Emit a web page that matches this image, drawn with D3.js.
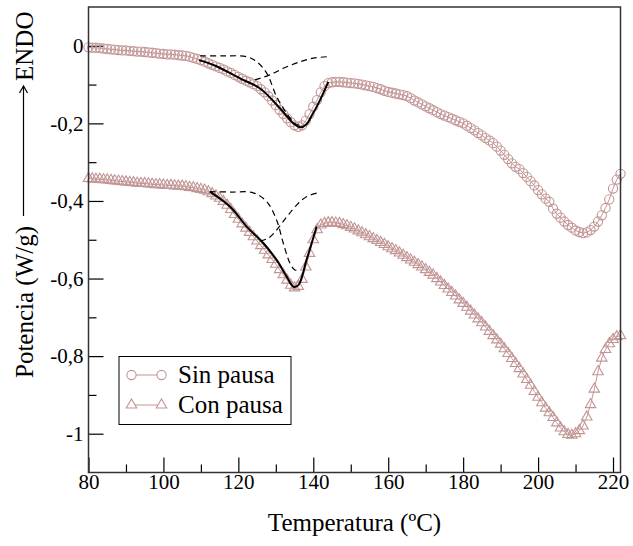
<!DOCTYPE html>
<html lang="es">
<head>
<meta charset="UTF-8">
<title>Potencia vs Temperatura</title>
<script src="https://cdnjs.cloudflare.com/ajax/libs/d3/7.8.5/d3.min.js"></script>
<style>
    body { margin: 0; background: #fff; }
    svg { display: block; font-family: "Liberation Serif", "Times New Roman", serif; }
    .axis path { display: none; }
    .axis line { stroke: #000; stroke-width: 1.2; }
    .axis text { font-size: 21px; fill: #000; font-family: "Liberation Serif", serif; }
</style>
</head>
<body>
<svg id="chart" width="633" height="546"></svg>
<script>
// temperatures (ºC) of the measured points, one per degree
const temps = [
     80,  81,  82,  83,  84,  85,  86,  87,  88,  89,  90,  91,  92,  93,  94,  95,  96,  97,  98,  99,
    100, 101, 102, 103, 104, 105, 106, 107, 108, 109, 110, 111, 112, 113, 114, 115, 116, 117, 118, 119,
    120, 121, 122, 123, 124, 125, 126, 127, 128, 129, 130, 131, 132, 133, 134, 135, 136, 137, 138, 139,
    140, 141, 142, 143, 144, 145, 146, 147, 148, 149, 150, 151, 152, 153, 154, 155, 156, 157, 158, 159,
    160, 161, 162, 163, 164, 165, 166, 167, 168, 169, 170, 171, 172, 173, 174, 175, 176, 177, 178, 179,
    180, 181, 182, 183, 184, 185, 186, 187, 188, 189, 190, 191, 192, 193, 194, 195, 196, 197, 198, 199,
    200, 201, 202, 203, 204, 205, 206, 207, 208, 209, 210, 211, 212, 213, 214, 215, 216, 217, 218, 219,
    220, 221, 222
];

// "Sin pausa" (circles)
const sinPausa = [
    -0.004, -0.005, -0.005, -0.006, -0.007, -0.008, -0.009, -0.010, -0.011, -0.012,
    -0.012, -0.013, -0.014, -0.015, -0.015, -0.016, -0.017, -0.018, -0.019, -0.020,
    -0.021, -0.022, -0.022, -0.023, -0.024, -0.025, -0.026, -0.028, -0.031, -0.034,
    -0.037, -0.041, -0.045, -0.049, -0.053, -0.057, -0.061, -0.066, -0.070, -0.075,
    -0.080, -0.085, -0.090, -0.094, -0.099, -0.104, -0.112, -0.120, -0.130, -0.141,
    -0.153, -0.165, -0.176, -0.187, -0.197, -0.205, -0.209, -0.205, -0.193, -0.176,
    -0.157, -0.140, -0.120, -0.104, -0.096, -0.094, -0.093, -0.093, -0.094, -0.095,
    -0.096, -0.097, -0.098, -0.100, -0.102, -0.104, -0.106, -0.109, -0.112, -0.116,
    -0.119, -0.121, -0.123, -0.125, -0.127, -0.130, -0.135, -0.141, -0.146, -0.151,
    -0.156, -0.161, -0.166, -0.171, -0.176, -0.180, -0.184, -0.188, -0.192, -0.196,
    -0.200, -0.206, -0.212, -0.218, -0.225, -0.231, -0.238, -0.244, -0.251, -0.260,
    -0.270, -0.281, -0.292, -0.303, -0.312, -0.318, -0.328, -0.338, -0.349, -0.360,
    -0.372, -0.383, -0.394, -0.402, -0.420, -0.433, -0.443, -0.453, -0.462, -0.469,
    -0.476, -0.480, -0.483, -0.481, -0.475, -0.466, -0.453, -0.437, -0.418, -0.396,
    -0.368, -0.345, -0.330
];

// "Con pausa" (triangles)
const conPausa = [
    -0.342, -0.343, -0.344, -0.344, -0.345, -0.346, -0.347, -0.348, -0.349, -0.350,
    -0.351, -0.352, -0.353, -0.354, -0.355, -0.355, -0.356, -0.357, -0.358, -0.358,
    -0.359, -0.360, -0.360, -0.361, -0.362, -0.362, -0.363, -0.365, -0.366, -0.368,
    -0.370, -0.372, -0.376, -0.381, -0.387, -0.393, -0.401, -0.411, -0.422, -0.435,
    -0.447, -0.459, -0.470, -0.481, -0.492, -0.503, -0.515, -0.527, -0.539, -0.551,
    -0.563, -0.577, -0.590, -0.604, -0.617, -0.624, -0.620, -0.602, -0.570, -0.535,
    -0.500, -0.474, -0.462, -0.458, -0.456, -0.456, -0.457, -0.458, -0.461, -0.464,
    -0.468, -0.472, -0.477, -0.482, -0.487, -0.492, -0.497, -0.502, -0.507, -0.512,
    -0.518, -0.523, -0.528, -0.534, -0.540, -0.546, -0.552, -0.558, -0.564, -0.570,
    -0.577, -0.584, -0.591, -0.600, -0.609, -0.618, -0.627, -0.636, -0.645, -0.655,
    -0.664, -0.674, -0.684, -0.694, -0.704, -0.714, -0.725, -0.736, -0.747, -0.758,
    -0.769, -0.781, -0.793, -0.806, -0.819, -0.832, -0.846, -0.860, -0.875, -0.891,
    -0.906, -0.920, -0.934, -0.946, -0.958, -0.972, -0.985, -0.995, -1.002, -1.004,
    -1.000, -0.992, -0.980, -0.957, -0.925, -0.885, -0.840, -0.805, -0.783, -0.768,
    -0.757, -0.750, -0.747
];

// fitted peak (solid) and its two components (dashed), [T, P]
const fitSin = [[109.5, -0.037], [114, -0.052], [120.4, -0.084], [125.8, -0.110], [131.1, -0.161],
    [134.7, -0.200], [136.5, -0.210], [138.2, -0.202], [139.6, -0.180], [141.8, -0.140], [144, -0.093]];
const compSinA = [[109.8, -0.026], [116, -0.026], [122.2, -0.028], [124.9, -0.041], [127.6, -0.071],
    [130.2, -0.131], [132.9, -0.174], [135.1, -0.200], [136.5, -0.206]];
const compSinB = [[124.4, -0.088], [128.4, -0.075], [132, -0.058], [136.5, -0.041], [140, -0.032], [144, -0.028]];

const fitCon = [[112.4, -0.376], [117.8, -0.415], [122.2, -0.466], [126.7, -0.509], [130.2, -0.552],
    [132.9, -0.595], [134.7, -0.621], [136, -0.617], [138.2, -0.552], [140.9, -0.466]];
const compConA = [[112.4, -0.376], [118, -0.377], [124, -0.379], [127.6, -0.402], [130.2, -0.449],
    [132, -0.509], [133.8, -0.561], [135.1, -0.578], [136.5, -0.579]];
const compConB = [[125.8, -0.503], [128, -0.496], [130.2, -0.475], [132.9, -0.441], [135.6, -0.410],
    [138.2, -0.389], [140.9, -0.380]];

const xTicks = [80, 100, 120, 140, 160, 180, 200, 220];
const xTickLabels = ["80", "100", "120", "140", "160", "180", "200", "220"];
const xMinor = [90, 110, 130, 150, 170, 190, 210];
const yTicks = [0, -0.2, -0.4, -0.6, -0.8, -1];
const yTickLabels = ["0", "-0,2", "-0,4", "-0,6", "-0,8", "-1"];
const yMinor = [-0.1, -0.3, -0.5, -0.7, -0.9];
const seriesNames = ["Sin pausa", "Con pausa"];

const markColor = "#c29595";
const plotLeft = 88.5, plotRight = 620.5, plotTop = 7, plotBottom = 472.5;

const svg = d3.select("#chart");

const x = d3.scaleLinear().domain([80, 222]).range([plotLeft, plotRight]);
const y = d3.scaleLinear().domain([-1.1, 0.1]).range([plotBottom, plotTop]);

// axes (ticks pointing inwards)
svg.append("g").attr("class", "axis")
    .attr("transform", `translate(0,${plotBottom})`)
    .call(d3.axisBottom(x).tickValues(xTicks).tickFormat((d, i) => xTickLabels[i])
        .tickSizeInner(-15).tickSizeOuter(0).tickPadding(2));
svg.append("g").attr("class", "axis")
    .attr("transform", `translate(0,${plotBottom})`)
    .call(d3.axisBottom(x).tickValues(xMinor).tickFormat("").tickSizeInner(-8).tickSizeOuter(0));
svg.append("g").attr("class", "axis")
    .attr("transform", `translate(${plotLeft},0)`)
    .call(d3.axisLeft(y).tickValues(yTicks).tickFormat((d, i) => yTickLabels[i])
        .tickSizeInner(-15).tickSizeOuter(0).tickPadding(5));
svg.append("g").attr("class", "axis")
    .attr("transform", `translate(${plotLeft},0)`)
    .call(d3.axisLeft(y).tickValues(yMinor).tickFormat("").tickSizeInner(-8).tickSizeOuter(0));

// connecting lines + markers
const line = d3.line().x((d, i) => x(temps[i])).y(d => y(d));

svg.append("path").datum(sinPausa)
    .attr("d", line).attr("fill", "none")
    .attr("stroke", markColor).attr("stroke-width", 1);
svg.append("path").datum(conPausa)
    .attr("d", line).attr("fill", "none")
    .attr("stroke", markColor).attr("stroke-width", 1);

svg.append("g").selectAll("circle")
    .data(sinPausa).enter().append("circle")
    .attr("cx", (d, i) => x(temps[i]))
    .attr("cy", d => y(d))
    .attr("r", 4.6)
    .attr("fill", "none")
    .attr("stroke", markColor)
    .attr("stroke-width", 1.1);

const tri = d3.symbol().type(d3.symbolTriangle).size(48);
svg.append("g").selectAll("path")
    .data(conPausa).enter().append("path")
    .attr("d", tri)
    .attr("transform", (d, i) => `translate(${x(temps[i])},${y(d)})`)
    .attr("fill", "none")
    .attr("stroke", markColor)
    .attr("stroke-width", 1.1);

// fits
const fitLine = d3.line().x(d => x(d[0])).y(d => y(d[1])).curve(d3.curveCatmullRom);
[fitSin, fitCon].forEach(f => {
    svg.append("path").datum(f).attr("d", fitLine)
        .attr("fill", "none").attr("stroke", "#000").attr("stroke-width", 2);
});
[compSinA, compSinB, compConA, compConB].forEach(f => {
    svg.append("path").datum(f).attr("d", fitLine)
        .attr("fill", "none").attr("stroke", "#000").attr("stroke-width", 1.2)
        .attr("stroke-dasharray", "6,4");
});

// frame
svg.append("rect")
    .attr("x", plotLeft).attr("y", plotTop)
    .attr("width", plotRight - plotLeft).attr("height", plotBottom - plotTop)
    .attr("fill", "none").attr("stroke", "#333").attr("stroke-width", 1.5);

// axis titles
svg.append("text")
    .attr("x", (plotLeft + plotRight) / 2).attr("y", 531)
    .attr("text-anchor", "middle")
    .attr("font-size", 25)
    .text("Temperatura (ºC)");

const yt = svg.append("g").attr("transform", "translate(33,378) rotate(-90)");
yt.append("text").attr("x", 0).attr("y", 0).attr("font-size", 25).text("Potencia (W/g)");
yt.append("line").attr("x1", 162).attr("x2", 292).attr("y1", -9.5).attr("y2", -9.5)
    .attr("stroke", "#000").attr("stroke-width", 1.2);
yt.append("path").attr("d", "M285,-13.5 L292,-9.5 L285,-5.5")
    .attr("fill", "none").attr("stroke", "#000").attr("stroke-width", 1.2);
yt.append("text").attr("x", 297).attr("y", 0).attr("font-size", 25).text("ENDO");

// legend
const lg = svg.append("g");
lg.append("rect").attr("x", 119).attr("y", 356.5).attr("width", 172).attr("height", 68)
    .attr("fill", "#fff").attr("stroke", "#000").attr("stroke-width", 1);
seriesNames.forEach((name, i) => {
    const ly = 375 + i * 30;
    lg.append("line").attr("x1", 131.5).attr("x2", 161.5).attr("y1", ly).attr("y2", ly)
        .attr("stroke", markColor).attr("stroke-width", 1);
    [131.5, 161.5].forEach(mx => {
        if (i === 0) {
            lg.append("circle").attr("cx", mx).attr("cy", ly).attr("r", 4.6)
                .attr("fill", "#fff").attr("stroke", markColor).attr("stroke-width", 1.1);
        } else {
            lg.append("path").attr("d", tri).attr("transform", `translate(${mx},${ly})`)
                .attr("fill", "#fff").attr("stroke", markColor).attr("stroke-width", 1.1);
        }
    });
    lg.append("text").attr("x", 178).attr("y", ly + 7.5)
        .attr("font-size", 25).text(name);
});
</script>
</body>
</html>
